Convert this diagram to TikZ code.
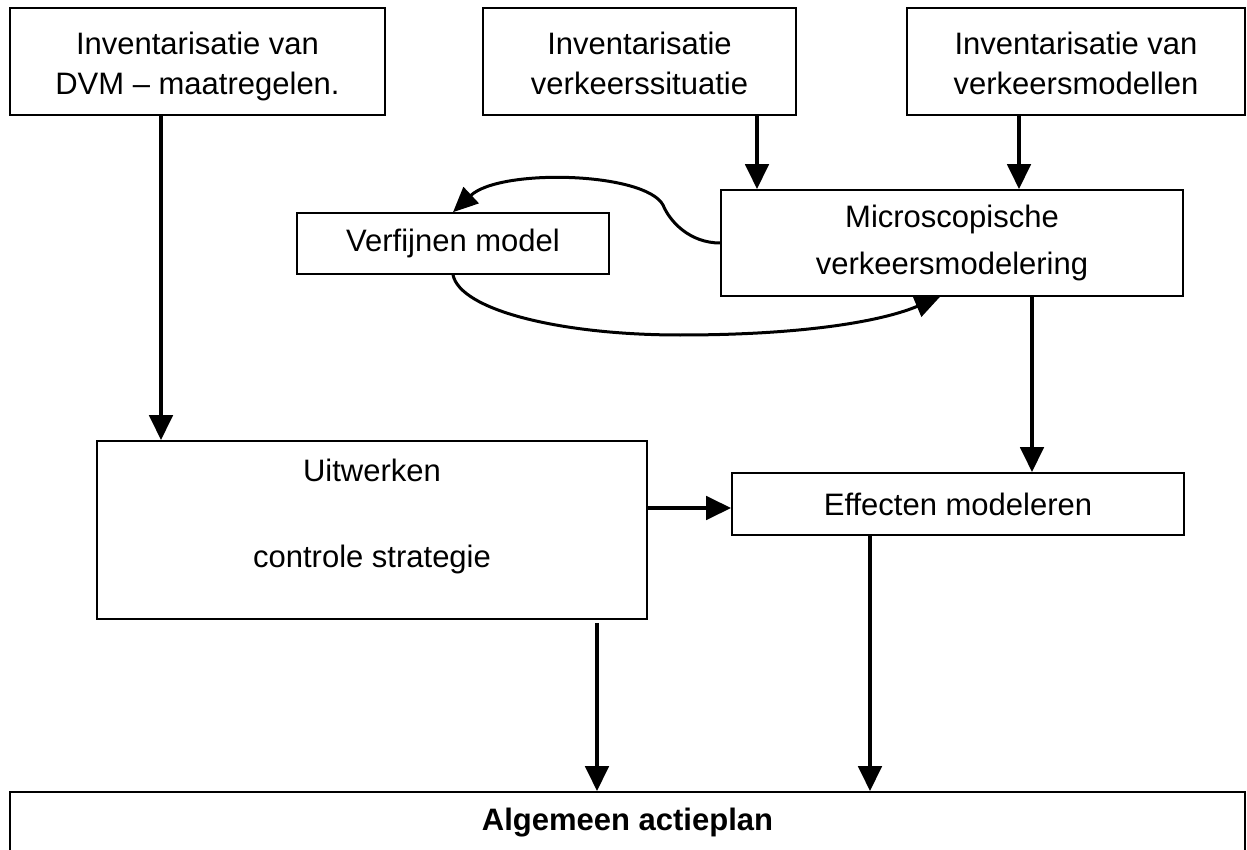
\documentclass[tikz,border=0pt]{standalone}
\usepackage{fontspec}
\setmainfont{Liberation Sans}
\usetikzlibrary{arrows.meta,calc}
\newcommand{\topstrut}{\rule{0pt}{33pt}}
\newcommand{\botstrut}{\rule[-7pt]{0pt}{7pt}}
\begin{document}
\begin{tikzpicture}[x=1pt,y=-1pt,
  box/.style={draw,line width=1.6pt,rectangle,inner sep=0pt,align=center,font=\fontsize{31}{38}\selectfont},
  topbox/.style={box,minimum height=107pt,font=\fontsize{31}{40}\selectfont},
  arr/.style={line width=4.5pt,-{Triangle[length=25pt,width=23pt]}},
  carr/.style={line width=3pt,-{Triangle[length=25pt,width=22pt]}}]
\useasboundingbox[fill=white] (0,0) rectangle (1247,850);

\node[topbox,minimum width=375pt] (b1) at (197.5,61.5) {\topstrut Inventarisatie van\\DVM – maatregelen.\botstrut};
\node[topbox,minimum width=313pt] (b2) at (639.5,61.5) {\topstrut Inventarisatie\\verkeerssituatie\botstrut};
\node[topbox,minimum width=338pt] (b3) at (1076,61.5) {\topstrut Inventarisatie van\\verkeersmodellen\botstrut};
\node[box,minimum width=462pt,minimum height=106pt] (micro) at (952,243) {Microscopische\\[9pt]verkeersmodelering};
\node[box,minimum width=312pt,minimum height=61pt] (verf) at (453,243.5) {Verfijnen model};
\node[box,minimum width=550pt,minimum height=178pt] (uit) at (372,530) {Uitwerken\\[48pt]controle strategie\rule[-33pt]{0pt}{33pt}};
\node[box,minimum width=452pt,minimum height=62pt] (eff) at (958,504) {Effecten modeleren};
\node[box,minimum width=1235pt,minimum height=62pt] (alg) at (627.5,823) {\bfseries Algemeen actieplan};

\draw[arr] ([xshift=-36.5pt]b1.south) -- ([xshift=-36.5pt]b1.south |- uit.north);
\draw[arr] ([xshift=117.5pt]b2.south) -- ([xshift=117.5pt]b2.south |- micro.north);
\draw[arr] ([xshift=-57pt]b3.south) -- ([xshift=-57pt]b3.south |- micro.north);
\draw[arr] ([xshift=80pt]micro.south) -- ([xshift=80pt]micro.south |- eff.north);
\draw[arr] ([yshift=22pt]uit.east) -- ([yshift=22pt]uit.east -| eff.west);
\draw[arr] ([xshift=225pt,yshift=-3pt]uit.south) -- ([xshift=225pt]uit.south |- alg.north);
\draw[arr] ([xshift=-88pt]eff.south) -- ([xshift=-88pt]eff.south |- alg.north);

\draw[carr] (micro.west) .. controls (690,243) and (670,222) .. (663,205)
  .. controls (645,172) and (500,168) .. (verf.north);
\draw[carr] (verf.south) .. controls (460,310) and (560,335) .. (680,335)
  .. controls (800,335) and (880,322) .. ([xshift=-12pt]micro.south);
\end{tikzpicture}
\end{document}
